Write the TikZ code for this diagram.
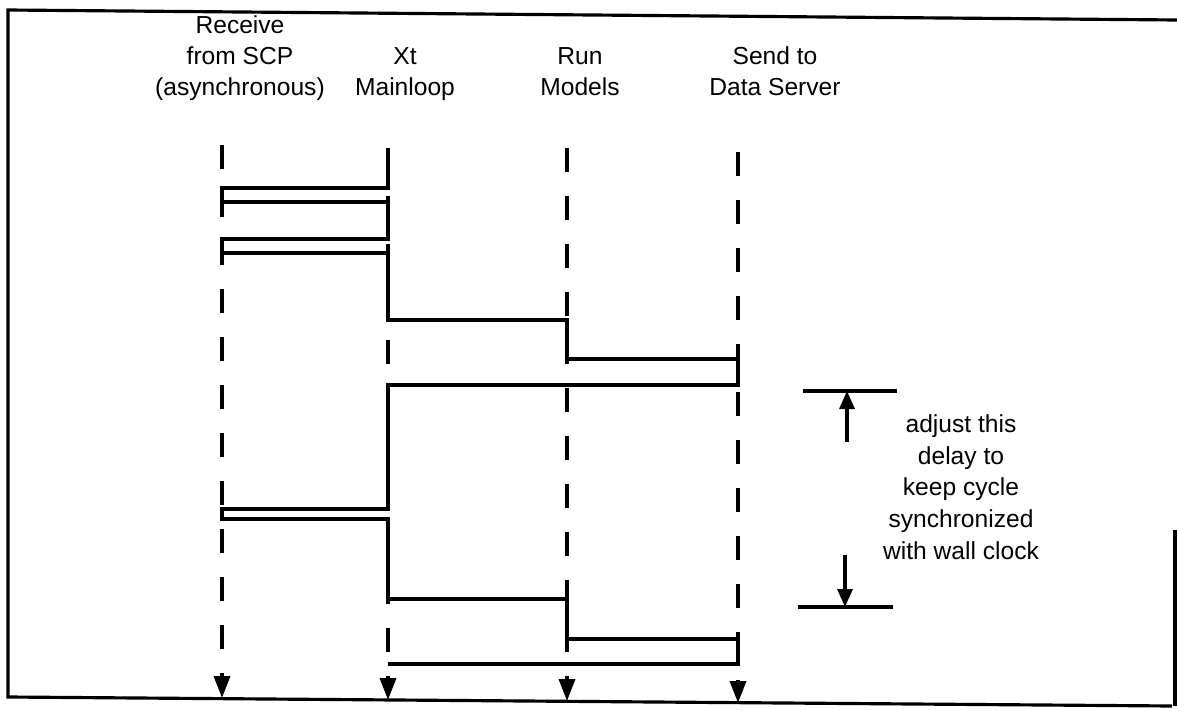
\documentclass[tikz,border=0pt]{standalone}
\usepackage{fontspec}
\setmainfont{Liberation Sans}
\usetikzlibrary{arrows.meta, positioning}

\begin{document}
\begin{tikzpicture}[
            x=0.02cm, y=-0.02cm,
            lane/.style={line width=2pt, dash pattern=on 0.48cm off 0.48cm, -{Triangle[length=0.44cm, width=0.32cm]}},
            cyclepath/.style={line width=1.8pt, line join=miter},
            frame/.style={line width=1.8pt},
            head/.style={font=\fontsize{14}{17.5}\selectfont, align=center, inner sep=0pt, anchor=south},
            note/.style={font=\fontsize{14}{18}\selectfont, align=center, inner sep=0pt},
            tick/.style={line width=1.8pt},
            arrow/.style={-{Triangle[length=0.36cm, width=0.3cm]}, line width=1.8pt}
        ]
        \useasboundingbox (0,0) rectangle (1177,710);
        \draw [frame] (1177,20) -- (8,10) -- (8,697) -- (1172,706);
        \draw [frame] (1175,530) -- (1175,706);
        \node [head] (rcv) at (240,105) {Receive\\from SCP\\(asynchronous)\strut};
        \node [head] (xt) at (405,105) {Xt\\Mainloop\strut};
        \node [head] (run) at (580,105) {Run\\Models\strut};
        \node [head] (snd) at (775,105) {Send to\\Data Server\strut};
        \coordinate (rcv top) at (222,145);
        \coordinate (xt top) at (388,148);
        \coordinate (run top) at (567,148);
        \coordinate (snd top) at (738,152);
        \coordinate (rcv end) at (222,698);
        \coordinate (xt end) at (388,700);
        \coordinate (run end) at (567,701);
        \coordinate (snd end) at (738,703);
        \draw [lane] (rcv top) -- (rcv end);
        \draw [lane] (xt top) -- (xt end);
        \draw [lane] (run top) -- (run end);
        \draw [lane] (snd top) -- (snd end);
        \draw [cyclepath] (xt top) -- (xt top |- 0,188) -- (rcv top |- 0,188) -- (rcv top |- 0,202) -- (xt top |- 0,202)
            -- (xt top |- 0,239) -- (rcv top |- 0,239) -- (rcv top |- 0,253) -- (xt top |- 0,253)
            -- (xt top |- 0,320) -- (run top |- 0,320) -- (run top |- 0,359) -- (snd top |- 0,359)
            -- (snd top |- 0,385) -- (xt top |- 0,385)
            -- (xt top |- 0,509) -- (rcv top |- 0,509) -- (rcv top |- 0,519) -- (xt top |- 0,519)
            -- (xt top |- 0,599) -- (run top |- 0,599) -- (run top |- 0,639) -- (snd top |- 0,639)
            -- (snd top |- 0,664) -- (xt top |- 0,664);
        \node [note] (delay) at (961,487) {adjust this\\delay to\\keep cycle\\synchronized\\with wall clock};
        \coordinate (top mark) at (847,391);
        \coordinate (bot mark) at (845,607);
        \draw [tick] (top mark) ++(-44,0) -- ++(94,0);
        \draw [tick] (bot mark) ++(-47,0) -- ++(95,0);
        \draw [arrow] (top mark) ++(0,51) -- (top mark);
        \draw [arrow] (bot mark) ++(0,-52) -- (bot mark);
    \end{tikzpicture}
\end{document}
